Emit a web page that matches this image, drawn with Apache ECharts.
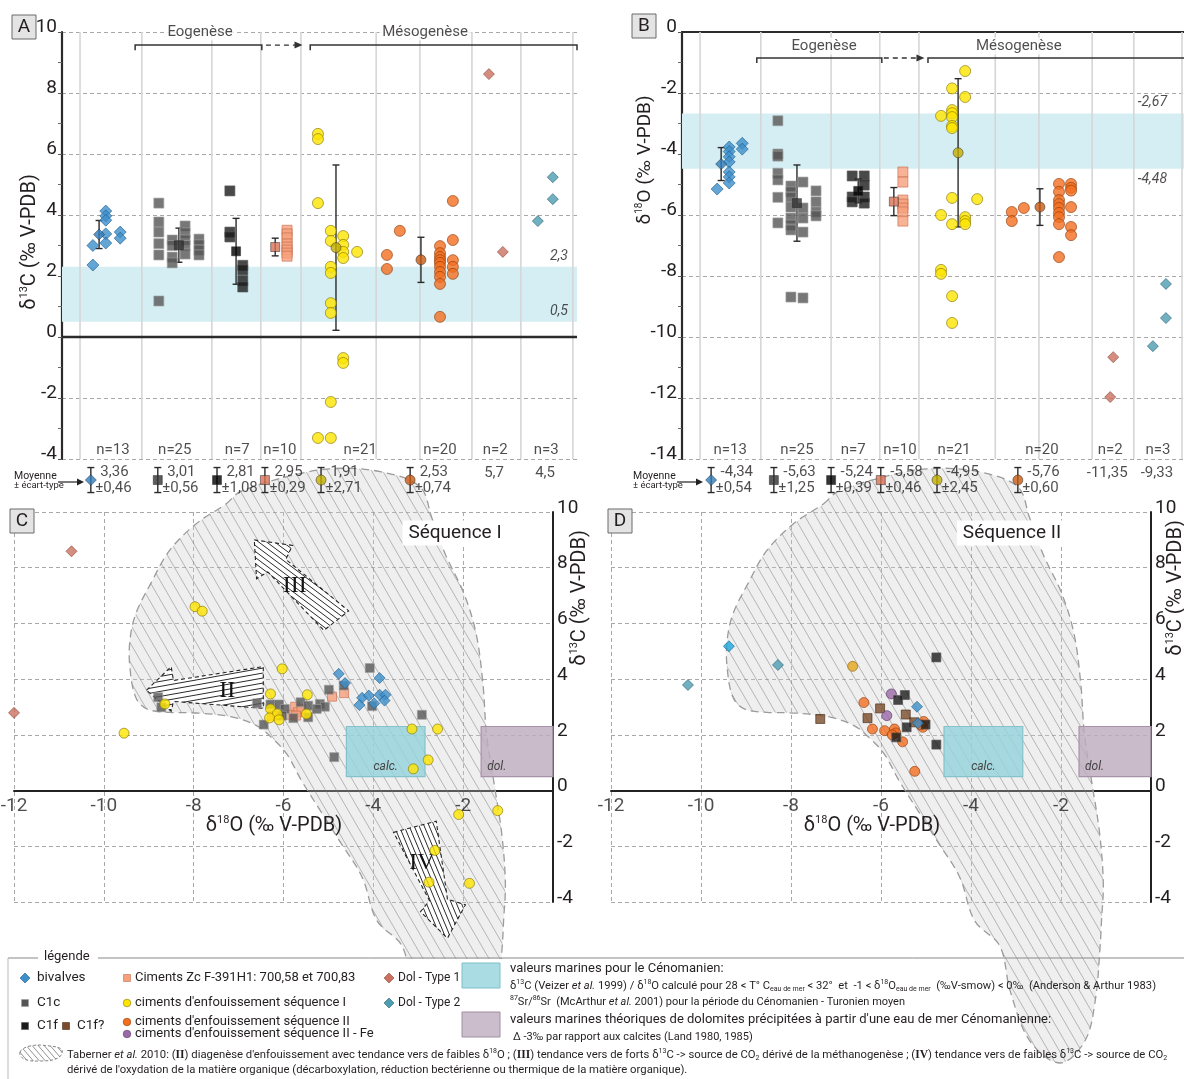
<!DOCTYPE html>
<html>
<head>
<meta charset="utf-8">
<script src="https://cdn.jsdelivr.net/npm/echarts@6/dist/echarts.min.js"></script>
<style>
html,body{margin:0;padding:0;background:#fff;}
#chart{width:1184px;height:1079px;}
</style>
</head>
<body>
<div id="chart"></div>
<script>
const FONT = 'Roboto, "Noto Sans", Arial, sans-serif';
const SERIF = '"Liberation Serif", "DejaVu Serif", serif';
const INK = '#231f20';

/* ================= DATA ================= */
const nLabels = ['n=13','n=25','n=7','n=10','n=21','n=20','n=2','n=3'];

// Panel A : δ13C (‰ V-PDB) – values per sub-column of each group
const a_biv  = [[2.36, 3.0], [4.13, 3.97, 3.83, 3.38, 3.08], [3.44, 3.24]];
const a_c1c  = [[4.39, 3.77, 3.44, 3.06, 2.69, 1.18], [3.18, 3.0, 2.62, 2.43], [3.64, 3.41, 3.18, 3.0, 2.72], [3.21, 3.02, 2.85, 2.69]];
const a_c1f  = [[4.79, 3.44, 3.28], [2.35, 2.2, 1.85, 1.64]];
const a_zc   = [[3.5, 3.38, 3.25, 3.05, 2.95, 2.85, 2.75, 2.65]];
const a_seq1 = [[6.66, 6.49, 4.39, -3.31], [3.48, 3.15, 2.3, 2.1, 1.11, 0.79, -2.13, -3.31], [3.31, 3.02, 2.79, 2.59, -0.69, -0.85], [2.79]];
const a_seq2 = [[2.69, 2.23], [3.48], [2.98, 2.75, 2.62, 2.52, 2.43, 2.3, 2.13, 1.97, 1.74, 0.66], [4.46, 3.18, 2.52, 2.3, 2.07]];
const a_dol1 = [[8.62], [2.79]];
const a_dol2 = [[3.8], [5.24, 4.52]];
const a_mean = [3.36, 3.01, 2.81, 2.95, 2.93, 2.53];
const a_sd   = [0.46, 0.56, 1.08, 0.29, 2.71, 0.74];
const a_meanText = ['3,36','3,01','2,81','2,95','1,91','2,53','5,7','4,5'];
const a_sdText   = ['±0,46','±0,56','±1,08','±0,29','±2,71','±0,74'];
const a_marine = [0.5, 2.3];
const a_marineText = ['0,5', '2,3'];

// Panel B : δ18O (‰ V-PDB)
const b_biv  = [[-5.15], [-3.77, -3.92, -4.09, -4.26, -4.59, -4.75, -4.95], [-3.65, -3.84]];
const b_c1c  = [[-2.91, -4.0, -4.07, -4.63, -4.85, -5.42, -6.26], [-5.05, -5.24, -5.42, -5.74, -6.1, -6.33, -6.49, -8.69], [-4.92, -5.77, -6.1, -6.56, -8.72], [-5.21, -5.57, -5.9, -6.03]];
const b_c1f  = [[-4.72, -5.41, -5.57], [-4.72, -5.02, -5.41, -5.61]];
const b_zc   = [[-4.59, -4.92, -5.51, -5.64, -5.77, -5.9, -6.2]];
const b_seq1 = [[-2.75, -6.0, -7.8, -7.93], [-1.85, -2.56, -2.66, -2.79, -3.08, -3.15, -5.44, -6.3, -8.66, -9.54], [-1.28, -2.13, -6.07, -6.2, -6.3], [-5.48]];
const b_seq2 = [[-5.9, -6.2], [-5.77], [-4.98, -5.24, -5.51, -5.64, -5.77, -5.93, -6.07, -6.3, -7.38], [-4.98, -5.11, -5.2, -5.74, -6.39, -6.66]];
const b_dol1 = [[-11.97], [-10.66]];
const b_dol2 = [[-10.3], [-8.26, -9.38]];
const b_mean = [-4.33, -5.61, -5.21, -5.56, -3.96, -5.74];
const b_sd   = [0.54, 1.25, 0.39, 0.46, 2.43, 0.60];
const b_meanText = ['-4,34','-5,63','-5,24','-5,58','-4,95','-5,76','-11,35','-9,33'];
const b_sdText   = ['±0,54','±1,25','±0,39','±0,46','±2,45','±0,60'];
const b_marine = [-4.48, -2.67];
const b_marineText = ['-4,48', '-2,67'];

// Panel C (Séquence I) : [δ18O, δ13C]
const c_dol1 = [[-10.72, 8.59], [-12.0, 2.79]];
const c_c1c  = [[-8.79, 3.35], [-8.72, 2.99], [-6.59, 3.13], [-6.29, 3.09], [-6.1, 3.09], [-5.97, 2.93], [-6.44, 2.37], [-5.62, 3.17], [-5.45, 3.05], [-5.78, 2.6], [-5.45, 2.63], [-5.19, 3.11], [-5.08, 3.01], [-5.26, 2.93], [-4.99, 3.62], [-4.66, 3.77], [-4.08, 4.4], [-4.03, 3.03], [-2.92, 2.72], [-4.87, 1.2], [-6.03, 2.69]];
const c_zc   = [[-4.92, 3.37], [-4.65, 3.5], [-5.74, 3.01], [-5.68, 2.81], [-5.85, 2.72], [-5.6, 2.93], [-6.25, 2.69], [-5.72, 2.69]];
const c_biv  = [[-4.77, 4.19], [-4.63, 3.86], [-4.25, 3.33], [-4.1, 3.41], [-4.31, 3.07], [-3.86, 4.04], [-3.86, 3.44], [-3.73, 3.44], [-3.75, 3.23], [-3.98, 3.13]];
const c_seq1 = [[-7.97, 6.6], [-7.81, 6.44], [-6.03, 4.37], [-9.55, 2.06], [-8.64, 3.11], [-6.29, 3.47], [-5.47, 3.44], [-6.29, 2.93], [-6.14, 2.75], [-6.31, 2.61], [-6.1, 2.54], [-5.49, 2.75], [-3.14, 2.21], [-2.57, 2.21], [-2.78, 1.1], [-3.11, 0.78], [-2.1, -0.86], [-1.23, -0.72], [-2.63, -2.15], [-2.76, -3.29], [-1.86, -3.33]];

// Panel D (Séquence II)
const d_dol2  = [[-10.29, 3.79], [-8.29, 4.51]];
const d_dol2b = [[-9.38, 5.18]];
const d_biv   = [[-5.2, 3.01], [-5.18, 2.42]];
const d_c1fq  = [[-7.35, 2.57], [-6.3, 2.6], [-6.02, 2.95], [-5.45, 2.73], [-5.26, 2.45]];
const d_c1f   = [[-4.77, 4.78], [-5.47, 3.43], [-5.62, 3.25], [-5.43, 2.27], [-5.66, 1.91], [-4.77, 1.65], [-5.01, 2.37]];
const d_fe    = [[-5.77, 3.47], [-5.87, 2.69]];
const d_gold  = [[-6.63, 4.46]];
const d_seq2  = [[-6.38, 3.16], [-6.19, 2.21], [-5.92, 2.15], [-5.7, 2.21], [-5.67, 2.07], [-5.75, 2.0], [-5.52, 1.75], [-5.05, 2.48], [-5.07, 2.27], [-5.12, 2.36], [-5.25, 0.69]];

// δ18O tick labels of the cross-plots
const oTicks = [-12, -10, -8, -6, -4, -2];

// marine reference boxes (δ18O range, δ13C range)
const calcO = [-4.6, -2.85], calcC = [0.5, 2.3];
const dolO  = [-1.6, 0.0],   dolC  = [0.5, 2.3];

// Taberner envelope outline [δ18O], [δ13C]
const envO = [-7.28,-6.97,-6.08,-4.97,-3.85,-2.96,-2.7,-2.4,-1.98,-1.71,-1.56,-1.48,-1.31,-1.14,-1.06,-1.1,-1.13,-1.24,-1.47,-2.02,-2.69,-3.13,-3.36,-3.92,-4.25,-4.76,-5.18,-5.6,-5.93,-6.27,-6.6,-7.11,-7.87,-8.54,-9.04,-9.29,-9.42,-9.42,-9.29,-8.96,-8.54,-7.95];
const envC = [10.29,10.72,11.2,11.55,11.45,10.9,9.8,8.49,7.06,5.62,3.83,2.03,0.24,-1.56,-3.35,-4.67,-5.58,-7.55,-8.99,-9.78,-8.99,-7.19,-5.58,-4.67,-3.11,-1.79,-0.72,0.36,1.32,1.91,2.33,2.63,2.78,2.81,2.93,3.35,4.43,5.38,6.34,7.42,8.61,9.57];
// trend arrows (Taberner et al. 2010)
const arrowII  = [[-9.05,3.6],[-8.5,4.45],[-8.45,3.95],[-6.45,4.45],[-6.45,2.95],[-8.45,3.2],[-8.5,2.85]];
const arrowIII = [[-6.65,9.0],[-5.8,8.8],[-5.95,8.3],[-4.55,6.45],[-5.1,5.75],[-6.35,7.85],[-6.6,7.6]];
const arrowIV  = [[-3.55,-1.5],[-2.6,-1.1],[-2.35,-3.9],[-1.95,-4.1],[-2.35,-5.3],[-2.95,-4.35],[-2.75,-3.95]];

/* ================= LAYOUT ================= */
const LA = {
  sub: {biv:[6.0,8.5,11.3], c1c:[18.8,21.4,23.9,26.6], c1f:[32.6,35.1], zc:[43.7], seq1:[49.7,52.2,54.6,57.3], seq2:[63.1,65.6,73.4,75.9], dol1:[82.9,85.6], dol2:[92.4,95.3]},
  mean:[7.2,22.7,33.8,41.4,53.2,69.7], vlines:[3.5,15.5,29.1,38.6,46.4,61.0,69.5,79.6,89.1,99.2],
  nPos:[9.9,21.9,34.0,42.3,57.9,73.4,84.1,94.0], nY:-3.72,
  icon:[5.6,18.6,30.1,39.4,50.3,67.6], single:[83.9,93.8], rowY:-4.69, rowH:0.41, singleY:-4.46,
  eo:[14.2,38.8], arr:[39.6,46.7], meso:[48.2,100], brY:9.57, drop:0.17, eoT:26.8, mesoT:70.5, brT:10.0, bandLab:96.5,
  yMin:-4, yMax:10
};
const LB = {
  sub: {biv:[7.0,9.4,12.0], c1c:[19.1,21.7,24.1,26.7], c1f:[33.9,36.3], zc:[44.0], seq1:[51.6,53.8,56.4,58.8], seq2:[65.7,68.1,75.1,77.5], dol1:[85.3,85.9], dol2:[93.8,96.4]},
  mean:[7.8,22.9,35.1,42.2,55.0,71.3], vlines:[3.6,15.7,29.7,39.4,47.2,62.4,71.1,81.7,90.0,99.6],
  nPos:[9.6,22.9,34.1,43.4,54.2,71.7,85.3,94.8], nY:-13.72,
  icon:[5.8,18.3,29.7,39.6,50.8,66.9], single:[84.7,94.6], rowY:-14.69, rowH:0.41, singleY:-14.46,
  eo:[14.9,39.8], arr:[40.2,48.3], meso:[49.0,101], brY:-0.85, drop:0.17, eoT:28.3, mesoT:67.1, brT:-0.46, bandLab:93.7,
  yMin:-14, yMax:0
};

const COL = {
  biv:['#3c8fcb','#1f5f8f'], c1c:['#555555','#a0a0a0'], c1f:['#1b1b1b','#555555'], c1fq:['#7a4c2b','#4a2c18'],
  zc:['#f6a07c','#c86c4e'], seq1:['#ffe500','#857500'], seq2:['#f26f21','#8f3c0c'], fe:['#9a6aa8','#5b3a66'],
  dol1:['#c9705f','#8b4a3e'], dol2:['#4c9cb2','#2a6272'], dol2b:['#1ea5dc','#12648a'], gold:['#e5a61c','#8a6410']
};
const MEANSTY = [['diamond','#2f7dbd',11],['rect','#333333',9],['rect','#000000',9],['rect','#d87256',9],['circle','#c4ae00',10],['circle','#c85a12',10]];

/* ================= HELPERS ================= */
function makeHatch(w, h, color, lw, bg, dir) {
  const c = document.createElement('canvas'); c.width = w; c.height = h;
  const g = c.getContext('2d');
  if (bg) { g.fillStyle = bg; g.fillRect(0, 0, w, h); }
  g.strokeStyle = color; g.lineWidth = lw;
  for (const dx of [-w, 0, w]) {
    g.beginPath();
    if (dir === 'back') { g.moveTo(dx - w, -h); g.lineTo(dx + 2 * w, 2 * h); }
    else { g.moveTo(dx - w, 2 * h); g.lineTo(dx + 2 * w, -h); }
    g.stroke();
  }
  return c;
}
const hatchEnv  = makeHatch(11, 19, 'rgba(120,120,120,0.55)', 0.9, null, 'back');
const hatchII   = makeHatch(28, 5, '#2a2a2a', 1, '#ffffff', 'fwd');
const hatchIII  = makeHatch(8, 6, '#2a2a2a', 1, '#ffffff', 'back');
const hatchIV   = makeHatch(5, 12, '#2a2a2a', 1, '#ffffff', 'back');
const hatchLeg  = makeHatch(6, 7, '#777', 0.8, '#ffffff', 'back');

function strip(values, xs, xi, sym, size, col, z) {
  const data = [];
  values.forEach((col_, i) => col_.forEach(v => data.push([xs[i], v])));
  return {type:'scatter', xAxisIndex:xi, yAxisIndex:xi, data, symbol:sym, symbolSize:size, z: z || 10, silent:true,
    itemStyle:{color:col[0], borderColor:col[1], borderWidth:0.8}};
}
function scat(data, xi, sym, size, col, z) {
  return {type:'scatter', xAxisIndex:xi, yAxisIndex:xi, data, symbol:sym, symbolSize:size, z: z || 10, silent:true,
    itemStyle:{color:col[0], borderColor:col[1], borderWidth:0.8}};
}
function texts(xi, items, lab, z) {
  return {type:'scatter', xAxisIndex:xi, yAxisIndex:xi, symbolSize:1, silent:true, clip:false, z: z || 12,
    itemStyle:{color:'transparent'},
    data: items.map(d => ({value:[d[0], d[1]], name:d[2]})),
    label: Object.assign({show:true, position:'inside', formatter:p => p.name, color:INK, fontFamily:FONT, fontSize:15}, lab)};
}
function segs(xi, list, style, z) {
  return {type:'custom', xAxisIndex:xi, yAxisIndex:xi, silent:true, clip:false, z: z || 1,
    data: list,
    renderItem:(p, api) => {
      const a = api.coord([api.value(0), api.value(1)]), b = api.coord([api.value(2), api.value(3)]);
      return {type:'line', shape:{x1:a[0], y1:a[1], x2:b[0], y2:b[1]}, style};
    }};
}
function poly(xi, pts, kind, style, z, extra) {
  return {type:'custom', xAxisIndex:xi, yAxisIndex:xi, silent:true, clip:false, z: z || 2,
    data:[pts[0]],
    renderItem:(p, api) => {
      const P = pts.map(q => api.coord(q));
      const ch = [{type:kind, shape:{points:P}, style}];
      if (extra) extra(api).forEach(e => ch.push(e));
      return {type:'group', children:ch};
    }};
}
function rects(xi, list, style, z) {
  return {type:'custom', xAxisIndex:xi, yAxisIndex:xi, silent:true, clip:false, z: z || 1,
    data: list,
    renderItem:(p, api) => {
      const a = api.coord([api.value(0), api.value(3)]), b = api.coord([api.value(1), api.value(2)]);
      return {type:'rect', shape:{x:a[0], y:a[1], width:b[0]-a[0], height:b[1]-a[1]}, style};
    }};
}
function errbars(xi, list, z) {
  return {type:'custom', xAxisIndex:xi, yAxisIndex:xi, silent:true, clip:false, z: z || 9,
    data: list,
    renderItem:(p, api) => {
      const x = api.value(0), m = api.value(1), s = api.value(2);
      const t = api.coord([x, m + s]), b = api.coord([x, m - s]), w = 3.5;
      const st = {stroke:'#2a2a2a', lineWidth:1.4};
      return {type:'group', children:[
        {type:'line', shape:{x1:t[0], y1:t[1], x2:b[0], y2:b[1]}, style:st},
        {type:'line', shape:{x1:t[0]-w, y1:t[1], x2:t[0]+w, y2:t[1]}, style:st},
        {type:'line', shape:{x1:b[0]-w, y1:b[1], x2:b[0]+w, y2:b[1]}, style:st}]};
    }};
}
function meanPts(xi, xs, ys) {
  return {type:'scatter', xAxisIndex:xi, yAxisIndex:xi, silent:true, clip:false, z:11,
    data: xs.map((x, i) => ({value:[x, ys[i]], symbol:MEANSTY[i][0], symbolSize:MEANSTY[i][2],
      itemStyle:{color:MEANSTY[i][1], borderColor:'#222', borderWidth:0.6}}))};
}

/* ---- build series for a strip panel (A or B) ---- */
function stripPanel(xi, L, d, mean, sd, meanText, sdText, band, bandText) {
  const S = [];
  S.push(rects(xi, [[0, 100, band[0], band[1]]], {fill:'#d5eef3'}, 1));
  S.push(segs(xi, L.vlines.map(x => [x, L.yMin, x, L.yMax]), {stroke:'#d6d6d6', lineWidth:1.6}, 1));
  if (xi === 0) S.push(segs(xi, [[0, 0, 100, 0]], {stroke:'#2b2b2b', lineWidth:2.4}, 3));
  S.push(strip(d.zc, L.sub.zc, xi, 'rect', 10, COL.zc));
  S.push(strip(d.c1c, L.sub.c1c, xi, 'rect', 10, COL.c1c));
  S.push(strip(d.c1f, L.sub.c1f, xi, 'rect', 10, COL.c1f));
  S.push(strip(d.biv, L.sub.biv, xi, 'diamond', 12, COL.biv));
  S.push(strip(d.seq1, L.sub.seq1, xi, 'circle', 11, COL.seq1));
  S.push(strip(d.seq2, L.sub.seq2, xi, 'circle', 11, COL.seq2));
  S.push(strip(d.dol1, L.sub.dol1, xi, 'diamond', 11, COL.dol1));
  S.push(strip(d.dol2, L.sub.dol2, xi, 'diamond', 11, COL.dol2));
  S.push(errbars(xi, L.mean.map((x, i) => [x, mean[i], sd[i]])));
  S.push(meanPts(xi, L.mean, mean));
  S.push(errbars(xi, L.icon.map(x => [x, L.rowY, L.rowH])));
  S.push(meanPts(xi, L.icon, L.icon.map(() => L.rowY)));
  S.push(texts(xi, L.icon.map((x, i) => [x, L.rowY, '{a|' + meanText[i] + '}\n{b|' + sdText[i] + '}']),
    {position:'right', distance:4, rich:{a:{fontSize:15, lineHeight:16, color:INK, fontFamily:FONT, padding:[0,0,0,5]}, b:{fontSize:15, lineHeight:16, color:INK, fontFamily:FONT}}}));
  S.push(texts(xi, L.single.map((x, i) => [x, L.singleY, meanText[6 + i]]), {}));
  S.push(texts(xi, L.nPos.map((x, i) => [x, L.nY, nLabels[i]]), {}));
  S.push(texts(xi, [[L.bandLab, band[1], bandText[1]]], {position: 'top', distance: 3, fontStyle:'italic', fontSize:14}));
  S.push(texts(xi, [[L.bandLab, band[0], bandText[0]]], {position: xi === 0 ? 'top' : 'bottom', distance: 3, fontStyle:'italic', fontSize:14}));
  const dr = L.drop;
  S.push(poly(xi, [[L.eo[0], L.brY - dr], [L.eo[0], L.brY], [L.eo[1], L.brY], [L.eo[1], L.brY - dr]], 'polyline', {stroke:'#333', lineWidth:1.5, fill:null}, 6));
  S.push(poly(xi, [[L.meso[0], L.brY - dr], [L.meso[0], L.brY], [L.meso[1], L.brY], [L.meso[1], L.brY - dr]], 'polyline', {stroke:'#333', lineWidth:1.5, fill:null}, 6,
    api => {
      const a = api.coord([L.arr[0], L.brY]), b = api.coord([L.arr[1], L.brY]);
      return [
        {type:'line', shape:{x1:a[0], y1:a[1], x2:b[0]-6, y2:b[1]}, style:{stroke:'#333', lineWidth:1.4, lineDash:[5,4]}},
        {type:'polygon', shape:{points:[[b[0], b[1]], [b[0]-8, b[1]-3.5], [b[0]-8, b[1]+3.5]]}, style:{fill:'#333'}}];
    }));
  S.push(texts(xi, [[L.eoT, L.brT, 'Eogenèse'], [L.mesoT, L.brT, 'Mésogenèse']],
    {backgroundColor:'#fff', padding:[1,3,1,3], fontSize:15}, 13));
  return S;
}

/* ---- scatter panels (C, D) ---- */
function envSeries(xi, z, cutC) {
  return {type:'custom', xAxisIndex:xi, yAxisIndex:xi, silent:true, clip:false, z,
    data:[[envO[0], envC[0]]],
    renderItem:(p, api) => {
      const P = envO.map((o, i) => api.coord([o, envC[i]]));
      const g = {type:'group', children:[
        {type:'polygon', shape:{points:P, smooth:0.35}, style:{fill:'rgba(205,205,205,0.32)'}},
        {type:'polygon', shape:{points:P, smooth:0.35}, style:{fill:{image:hatchEnv, repeat:'repeat'}, stroke:'#9b9b9b', lineWidth:1.3, lineDash:[8,5]}}]};
      if (cutC !== undefined) {
        const yc = api.coord([0, cutC])[1];
        g.clipPath = {type:'rect', shape:{x:0, y:0, width:2000, height:yc}};
      }
      return g;
    }};
}
function boxSeriesStyled(xi) {
  return {type:'custom', xAxisIndex:xi, yAxisIndex:xi, silent:true, clip:false, z:6,
    data:[[calcO[0], calcO[1], calcC[0], calcC[1]], [dolO[0], dolO[1], dolC[0], dolC[1]]],
    renderItem:(p, api) => {
      const a = api.coord([api.value(0), api.value(3)]), b = api.coord([api.value(1), api.value(2)]);
      const calc = p.dataIndex === 0;
      return {type:'group', children:[
        {type:'rect', shape:{x:a[0], y:a[1], width:b[0]-a[0], height:b[1]-a[1]},
          style:{fill: calc ? 'rgba(150,212,220,0.82)' : 'rgba(190,172,190,0.82)', stroke: calc ? '#86c2cc' : '#a793a7', lineWidth:1.2}},
        {type:'text', x: calc ? (a[0]+b[0])/2 : a[0]+6, y: b[1]-4,
          style:{text: calc ? 'calc.' : 'dol.', font:'italic 12px ' + FONT, fill:'#444', align: calc ? 'center' : 'left', verticalAlign:'bottom'}}]};
    }};
}
function arrowSeries(xi, pts, pat, lab, labPos) {
  return poly(xi, pts, 'polygon', {fill:{image:pat, repeat:'repeat'}, stroke:'#222', lineWidth:1.1, lineDash:[4,3]}, 3,
    api => {
      const c = api.coord(labPos);
      return [{type:'text', x:c[0], y:c[1], style:{text:lab, font:'24px ' + SERIF, fill:'#111', align:'center', verticalAlign:'middle'}}];
    });
}

/* ================= OPTION ================= */
const axisLbl = {fontSize:19, color:INK, fontFamily:FONT};
const dash = {show:true, lineStyle:{type:[4,3], color:'#a8a8a8', width:1}};
const grids = [
  {left:62, top:32, width:515, height:427},
  {left:682, top:32, width:502, height:427},
  {left:14, top:512, width:539, height:390},
  {left:611, top:512, width:540, height:390}
].map(g => Object.assign({containLabel:false, outerBoundsMode:'none'}, g));

const xAxes = [
  {gridIndex:0, type:'value', min:0, max:100, show:false},
  {gridIndex:1, type:'value', min:0, max:100, position:'top', axisLine:{show:true, onZero:false, lineStyle:{color:'#2b2b2b', width:2.2}}, axisTick:{show:false}, axisLabel:{show:false}, splitLine:{show:false}},
  {gridIndex:2, type:'value', min:-12, max:0, interval:2, axisLine:{show:true, onZero:true, lineStyle:{color:'#222', width:2}}, axisTick:{show:false}, axisLabel:{show:false}, splitLine:dash},
  {gridIndex:3, type:'value', min:-12, max:0, interval:2, axisLine:{show:true, onZero:true, lineStyle:{color:'#222', width:2}}, axisTick:{show:false}, axisLabel:{show:false}, splitLine:dash}
];
const yAxes = [
  {gridIndex:0, type:'value', min:-4, max:10, interval:2, axisLine:{show:true, onZero:false, lineStyle:{color:'#2b2b2b', width:2.2}},
    axisTick:{show:true, length:4, lineStyle:{color:'#555'}}, minorTick:{show:true, splitNumber:2, length:4, lineStyle:{color:'#666'}},
    axisLabel:Object.assign({margin:5, verticalAlign:'bottom', lineHeight:10}, axisLbl), splitLine:dash},
  {gridIndex:1, type:'value', min:-14, max:0, interval:2, axisLine:{show:true, onZero:false, lineStyle:{color:'#2b2b2b', width:2.2}},
    axisTick:{show:true, length:4, lineStyle:{color:'#555'}}, minorTick:{show:true, splitNumber:2, length:4, lineStyle:{color:'#666'}},
    axisLabel:Object.assign({margin:5, verticalAlign:'bottom', lineHeight:10}, axisLbl), splitLine:dash},
  {gridIndex:2, type:'value', min:-4, max:10, interval:2, position:'right', axisLine:{show:true, onZero:false, lineStyle:{color:'#222', width:2}},
    axisTick:{show:false}, axisLabel:Object.assign({margin:4, verticalAlign:'bottom', lineHeight:8}, axisLbl), splitLine:dash},
  {gridIndex:3, type:'value', min:-4, max:10, interval:2, position:'right', axisLine:{show:true, onZero:false, lineStyle:{color:'#222', width:2}},
    axisTick:{show:false}, axisLabel:Object.assign({margin:4, verticalAlign:'bottom', lineHeight:8}, axisLbl), splitLine:dash}
];

let series = [];
series = series.concat(stripPanel(0, LA, {biv:a_biv, c1c:a_c1c, c1f:a_c1f, zc:a_zc, seq1:a_seq1, seq2:a_seq2, dol1:a_dol1, dol2:a_dol2}, a_mean, a_sd, a_meanText, a_sdText, a_marine, a_marineText));
series = series.concat(stripPanel(1, LB, {biv:b_biv, c1c:b_c1c, c1f:b_c1f, zc:b_zc, seq1:b_seq1, seq2:b_seq2, dol1:b_dol1, dol2:b_dol2}, b_mean, b_sd, b_meanText, b_sdText, b_marine, b_marineText));

// δ18O tick labels at the zero line
[2, 3].forEach(xi => series.push(texts(xi, oTicks.map(v => [v, 0, String(v)]), {position:'bottom', distance:6, fontSize:19}, 7)));

// Panel C
series.push(envSeries(2, 1, -6.05));
series.push(arrowSeries(2, arrowII, hatchII, 'II', [-7.25, 3.6]));
series.push(arrowSeries(2, arrowIII, hatchIII, 'III', [-5.75, 7.35]));
series.push(arrowSeries(2, arrowIV, hatchIV, 'IV', [-2.92, -2.6]));
series.push(boxSeriesStyled(2));
series.push(scat(c_dol1, 2, 'diamond', 11, COL.dol1));
series.push(scat(c_zc, 2, 'rect', 9, COL.zc));
series.push(scat(c_c1c, 2, 'rect', 9, COL.c1c));
series.push(scat(c_biv, 2, 'diamond', 11, COL.biv));
series.push(scat(c_seq1, 2, 'circle', 10, COL.seq1));

// Panel D
series.push(envSeries(3, 1));
series.push(boxSeriesStyled(3));
series.push(scat(d_dol2, 3, 'diamond', 11, COL.dol2));
series.push(scat(d_dol2b, 3, 'diamond', 11, COL.dol2b));
series.push(scat(d_gold, 3, 'circle', 10, COL.gold));
series.push(scat(d_c1fq, 3, 'rect', 9, COL.c1fq));
series.push(scat(d_seq2, 3, 'circle', 10, COL.seq2));
series.push(scat(d_fe, 3, 'circle', 10, COL.fe));
series.push(scat(d_c1f, 3, 'rect', 9, COL.c1f));
series.push(scat(d_biv, 3, 'diamond', 11, COL.biv));

/* ================= GRAPHIC (labels, legend) ================= */
function T(x, y, text, size, extra) {
  return Object.assign({type:'text', x, y, z:20, silent:true,
    style:Object.assign({text, fontSize:size, fontFamily:FONT, fill:INK, align:'left', verticalAlign:'middle'}, extra || {})});
}
function richAxis(size) {
  return {n:{fontSize:size, fontFamily:FONT, fill:INK, lineHeight:size + 2}, s:{fontSize:Math.round(size * 0.55), fontFamily:FONT, fill:INK, verticalAlign:'top', lineHeight:Math.round(size * 0.6)}};
}
function letterBox(x, y, t) {
  return [
    {type:'rect', shape:{x, y, width:24, height:24}, style:{fill:'#e4e4e4', stroke:'#6a6a6a', lineWidth:1}, z:20, silent:true},
    T(x + 12, y + 12.5, t, 19, {align:'center'})
  ];
}
function diamondG(cx, cy, r, col) {
  return {type:'polygon', shape:{points:[[cx, cy - r], [cx + r, cy], [cx, cy + r], [cx - r, cy]]}, style:{fill:col[0], stroke:col[1], lineWidth:0.6}, z:20, silent:true};
}
function squareG(cx, cy, r, col) {
  return {type:'rect', shape:{x:cx - r, y:cy - r, width:2 * r, height:2 * r}, style:{fill:col[0], stroke:col[1], lineWidth:0.6}, z:20, silent:true};
}
function circleG(cx, cy, r, col) {
  return {type:'circle', shape:{cx, cy, r}, style:{fill:col[0], stroke:col[1], lineWidth:0.6}, z:20, silent:true};
}
function moyenne(x, y) {
  return [
    T(x, y - 5, 'Moyenne', 10.5),
    T(x, y + 5, '± écart-type', 9.5),
    {type:'line', shape:{x1:x + 44, y1:y + 1, x2:x + 64, y2:y + 1}, style:{stroke:'#222', lineWidth:1.2}, z:20, silent:true},
    {type:'polygon', shape:{points:[[x + 70, y + 1], [x + 63, y - 2.5], [x + 63, y + 4.5]]}, style:{fill:'#222'}, z:20, silent:true}
  ];
}
function legRichOf(fs) {
  return {
    n:{fontSize:fs, fontFamily:FONT, fill:INK, lineHeight:14},
    i:{fontSize:fs, fontFamily:FONT, fontStyle:'italic', fill:INK, lineHeight:14},
    s:{fontSize:Math.round(fs * 0.65), fontFamily:FONT, fill:INK, verticalAlign:'top', lineHeight:7},
    u:{fontSize:Math.round(fs * 0.65), fontFamily:FONT, fill:INK, verticalAlign:'bottom', lineHeight:7},
    b:{fontSize:fs + 0.3, fontFamily:SERIF, fontWeight:'bold', fill:INK, lineHeight:14}
  };
}

const graphics = [].concat(
  letterBox(12, 15, 'A'), letterBox(632, 14, 'B'), letterBox(10, 509, 'C'), letterBox(608, 509, 'D'),
  [
    Object.assign(T(30, 242, '{n|δ}{s|13}{n|C (‰ V-PDB)}', 20, {align:'center', rich:richAxis(20)}), {rotation:Math.PI / 2}),
    Object.assign(T(645, 160, '{n|δ}{s|18}{n|O (‰ V-PDB)}', 19, {align:'center', rich:richAxis(19)}), {rotation:Math.PI / 2}),
    Object.assign(T(580, 598, '{n|δ}{s|13}{n|C (‰ V-PDB)}', 20, {align:'center', rich:richAxis(20)}), {rotation:Math.PI / 2}),
    Object.assign(T(1176, 588, '{n|δ}{s|13}{n|C (‰ V-PDB)}', 20, {align:'center', rich:richAxis(20)}), {rotation:Math.PI / 2}),
    T(274, 826, '{n|δ}{s|18}{n|O (‰ V-PDB)}', 20, {align:'center', rich:richAxis(20)}),
    T(872, 826, '{n|δ}{s|18}{n|O (‰ V-PDB)}', 20, {align:'center', rich:richAxis(20)}),
    T(455, 533, 'Séquence I', 19, {align:'center', backgroundColor:'#fff', padding:[3,6,3,6]}),
    T(1012, 533, 'Séquence II', 19, {align:'center', backgroundColor:'#fff', padding:[3,6,3,6]})
  ],
  moyenne(14, 481), moyenne(633, 481)
);

// legend block
const legend = [
  {type:'line', shape:{x1:8, y1:958, x2:38, y2:958}, style:{stroke:'#888', lineWidth:1}, z:20, silent:true},
  {type:'line', shape:{x1:98, y1:958, x2:1184, y2:958}, style:{stroke:'#888', lineWidth:1}, z:20, silent:true},
  {type:'line', shape:{x1:8, y1:958, x2:8, y2:1079}, style:{stroke:'#bbb', lineWidth:1}, z:20, silent:true},
  T(44, 957, 'légende', 13),
  diamondG(25, 978, 5, COL.biv), T(37, 978, 'bivalves', 13.5),
  squareG(127, 978, 3.5, COL.zc), T(135, 978, 'Ciments Zc F-391H1: 700,58 et 700,83', 13),
  diamondG(389, 978, 5, COL.dol1), T(398, 978, 'Dol - Type 1', 12),
  squareG(25, 1003, 3.5, COL.c1c), T(37, 1003, 'C1c', 13.5),
  circleG(127, 1003, 3.8, COL.seq1), T(135, 1003, "ciments d'enfouissement séquence I", 13),
  diamondG(389, 1003, 5, COL.dol2), T(398, 1003, 'Dol - Type 2', 12),
  squareG(25, 1026, 3.5, COL.c1f), T(37, 1026, 'C1f', 13.5),
  squareG(66, 1026, 3.5, COL.c1fq), T(77, 1026, 'C1f?', 13.5),
  circleG(127, 1022, 3.8, COL.seq2), T(135, 1022, "ciments d'enfouissement séquence II", 13),
  circleG(127, 1034, 3.8, COL.fe), T(135, 1034, "ciments d'enfouissement séquence II - Fe", 13),
  {type:'rect', shape:{x:462, y:963, width:38, height:25}, style:{fill:'#a9dde3', stroke:'#7fbfc9', lineWidth:1}, z:20, silent:true},
  {type:'rect', shape:{x:462, y:1012, width:38, height:25}, style:{fill:'#cbbdcb', stroke:'#a08fa0', lineWidth:1}, z:20, silent:true},
  T(510, 969, 'valeurs marines pour le Cénomanien:', 13),
  T(510, 986, '{n|δ}{s|13}{n|C (Veizer }{i|et al.}{n| 1999) / δ}{s|18}{n|O calculé pour 28 < T° C}{u|eau de mer}{n| < 32°  et  -1 < δ}{s|18}{n|O}{u|eau de mer}{n|  (‰V-smow) < 0‰  (Anderson & Arthur 1983)}', 11.2, {rich:legRichOf(11.2)}),
  T(510, 1002, '{s|87}{n|Sr/}{s|86}{n|Sr  (McArthur }{i|et al.}{n| 2001) pour la période du Cénomanien - Turonien moyen}', 11, {rich:legRichOf(11)}),
  T(510, 1020, "valeurs marines théoriques de dolomites précipitées à partir d'une eau de mer Cénomanienne:", 13),
  T(513, 1037, 'Δ -3‰ par rapport aux calcites (Land 1980, 1985)', 11),
  {type:'polygon', shape:{points:[[20,1052],[30,1046],[50,1046],[62,1050],[58,1058],[40,1061],[24,1059]], smooth:0.4}, style:{fill:{image:hatchLeg, repeat:'repeat'}, stroke:'#666', lineWidth:0.8, lineDash:[3,2]}, z:20, silent:true},
  T(67, 1055, '{n|Taberner }{i|et al.}{n| 2010: (}{b|II}{n|) diagenèse d\'enfouissement avec tendance vers de faibles δ}{s|18}{n|O ; (}{b|III}{n|) tendance vers de forts δ}{s|13}{n|C -> source de CO}{u|2}{n| dérivé de la méthanogenèse ; (}{b|IV}{n|) tendance vers de faibles δ}{s|13}{n|C -> source de CO}{u|2}', 11.3, {rich:legRichOf(11.3)}),
  T(67, 1070, "dérivé de l'oxydation de la matière organique (décarboxylation, réduction bectérienne ou thermique de la matière organique).", 11.3)
];

const option = {
  animation:false,
  backgroundColor:'#fff',
  textStyle:{fontFamily:FONT},
  grid:grids, xAxis:xAxes, yAxis:yAxes, series,
  graphic:{elements: graphics.concat(legend)}
};
const chart = echarts.init(document.getElementById('chart'), null, {renderer:'canvas'});
chart.setOption(option);
</script>
</body>
</html>
